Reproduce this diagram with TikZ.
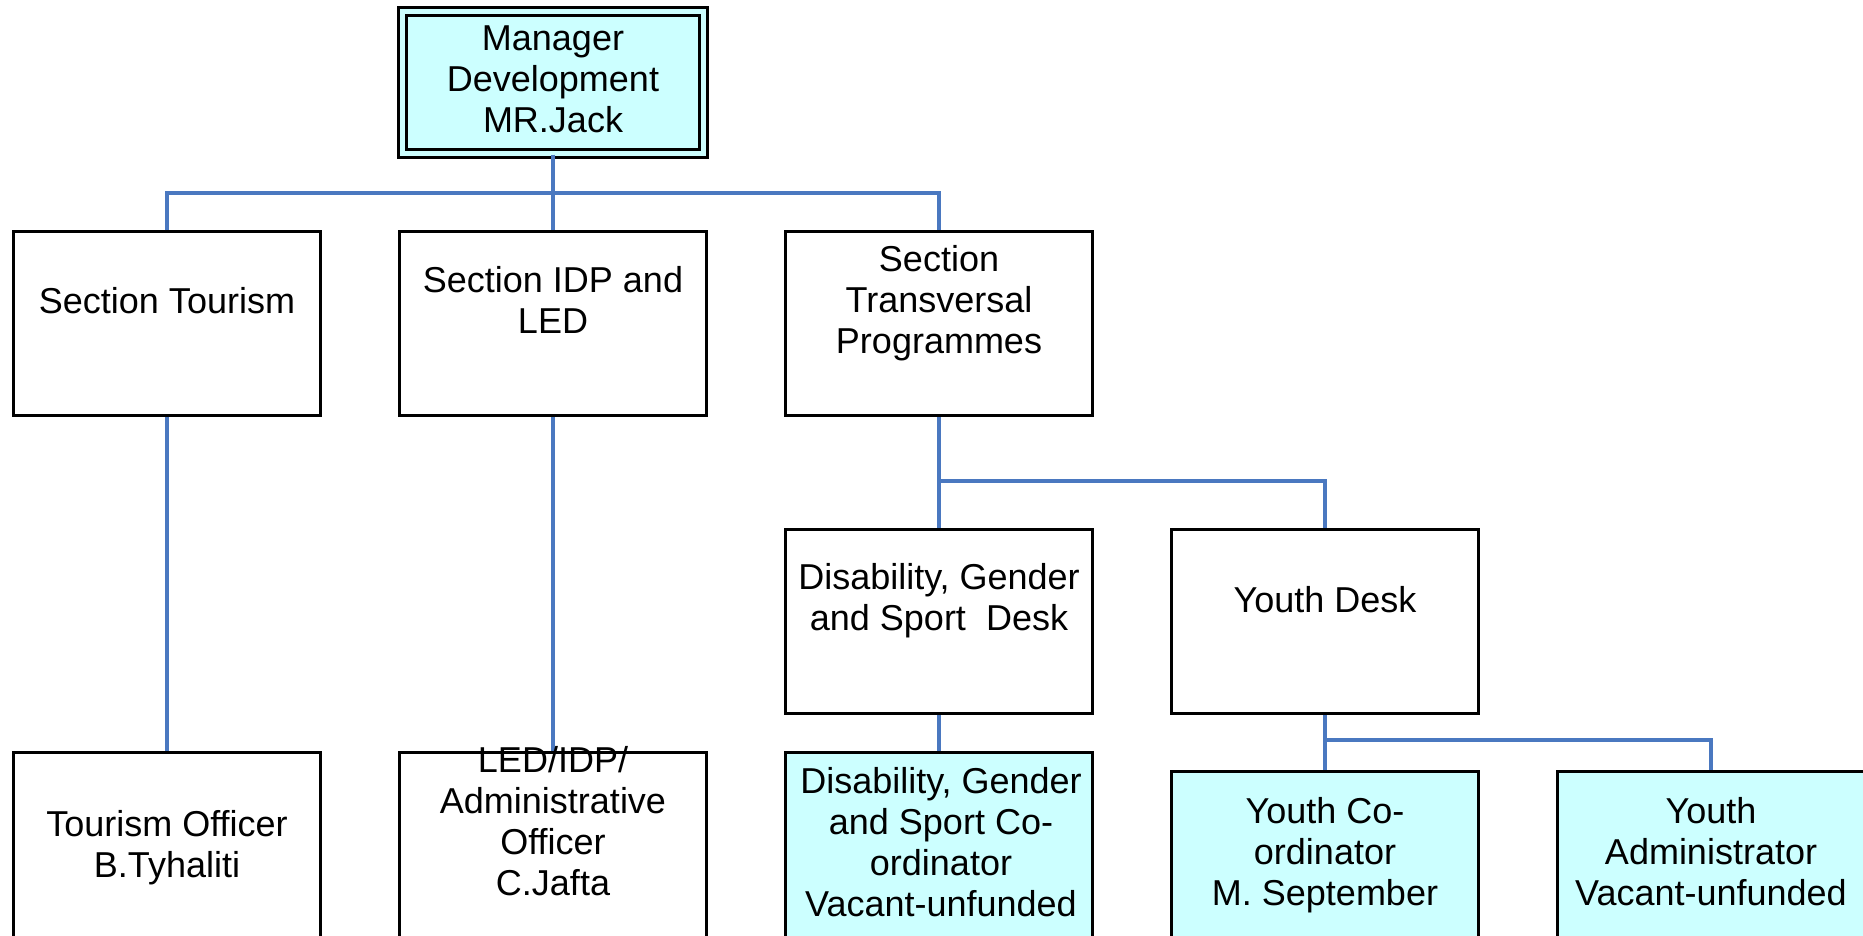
\documentclass[tikz,border=0pt]{standalone}
\usepackage{fontspec}
\setmainfont{Liberation Sans}
\definecolor{boxcyan}{HTML}{CCFFFF}
\definecolor{connblue}{HTML}{4A78C0}
\tikzset{
  orgbox/.style={draw=black, line width=3pt, rectangle, inner sep=0pt,
    minimum width=307pt, minimum height=184pt, anchor=north, fill=white},
  lowbox/.style={orgbox, minimum height=260pt},
  cyanbox/.style={lowbox, fill=boxcyan},
  conn/.style={draw=connblue, line width=3.2pt},
  lbl/.style={inner sep=0pt, align=center, font=\fontsize{36}{41}\selectfont,
    execute at begin node=\strut, execute at end node=\strut}
}
\begin{document}
\begin{tikzpicture}[x=1pt,y=-1pt]
\useasboundingbox (0,0) rectangle (1863,935);
\clip (0,0) rectangle (1863,935);
\fill[white] (0,0) rectangle (1863,935);
% manager
\node[draw=black, line width=3pt, double=boxcyan, double distance=5pt, fill=boxcyan,
  minimum width=301pt, minimum height=142pt, inner sep=0pt] (mgr) at (553,82) {};
% row 1
\node[orgbox] (tour) at (167,230) {};
\node[orgbox] (idp) at (553,230) {};
\node[orgbox] (trans) at (939,230) {};
% row 2
\node[orgbox] (dis) at (939,528) {};
\node[orgbox] (youth) at (1325,528) {};
% row 3
\node[lowbox] (tofc) at (167,751) {};
\node[lowbox] (led) at (553,751) {};
\node[cyanbox] (disc) at (939,751) {};
\node[cyanbox] (yco) at (1325,770) {};
\node[cyanbox] (yadm) at (1711,770) {};
% connectors
\coordinate (bus1) at (553,193);
\coordinate (bus2) at (939,481);
\coordinate (bus3) at (1325,740);
\draw[conn] (mgr.south) -- (idp.north);
\draw[conn] (tour.north) |- (bus1) -| (trans.north);
\draw[conn] (tour.south) -- (tofc.north);
\draw[conn] (idp.south) -- (led.north);
\draw[conn] (trans.south) -- (dis.north);
\draw[conn] (bus2) -| (youth.north);
\draw[conn] (dis.south) -- (disc.north);
\draw[conn] (youth.south) -- (yco.north);
\draw[conn] (bus3) -| (yadm.north);
% labels
\node[lbl] (mgrT) at (553,85) {Manager\\Development\\MR.Jack};
\node[lbl] (tourT) at (167,305) {Section Tourism};
\node[lbl] (idpT) at (553,306) {Section IDP and\\LED};
\node[lbl] (transT) at (939,306) {Section\\Transversal\\Programmes};
\node[lbl] (disT) at (939,603) {Disability, Gender\\and Sport~~Desk};
\node[lbl] (youthT) at (1325,604) {Youth Desk};
\node[lbl] (tofcT) at (167,850) {Tourism Officer\\B.Tyhaliti};
\node[lbl] (ledT) at (553,827) {LED/IDP/\\Administrative\\Officer\\C.Jafta};
\node[lbl] (discT) at (941,848) {Disability, Gender\\and Sport Co-\\ordinator\\ Vacant-unfunded};
\node[lbl] (ycoT) at (1325,858) {Youth Co-\\ordinator\\M. September};
\node[lbl] (yadmT) at (1711,858) {Youth\\Administrator\\Vacant-unfunded};
\end{tikzpicture}
\end{document}
